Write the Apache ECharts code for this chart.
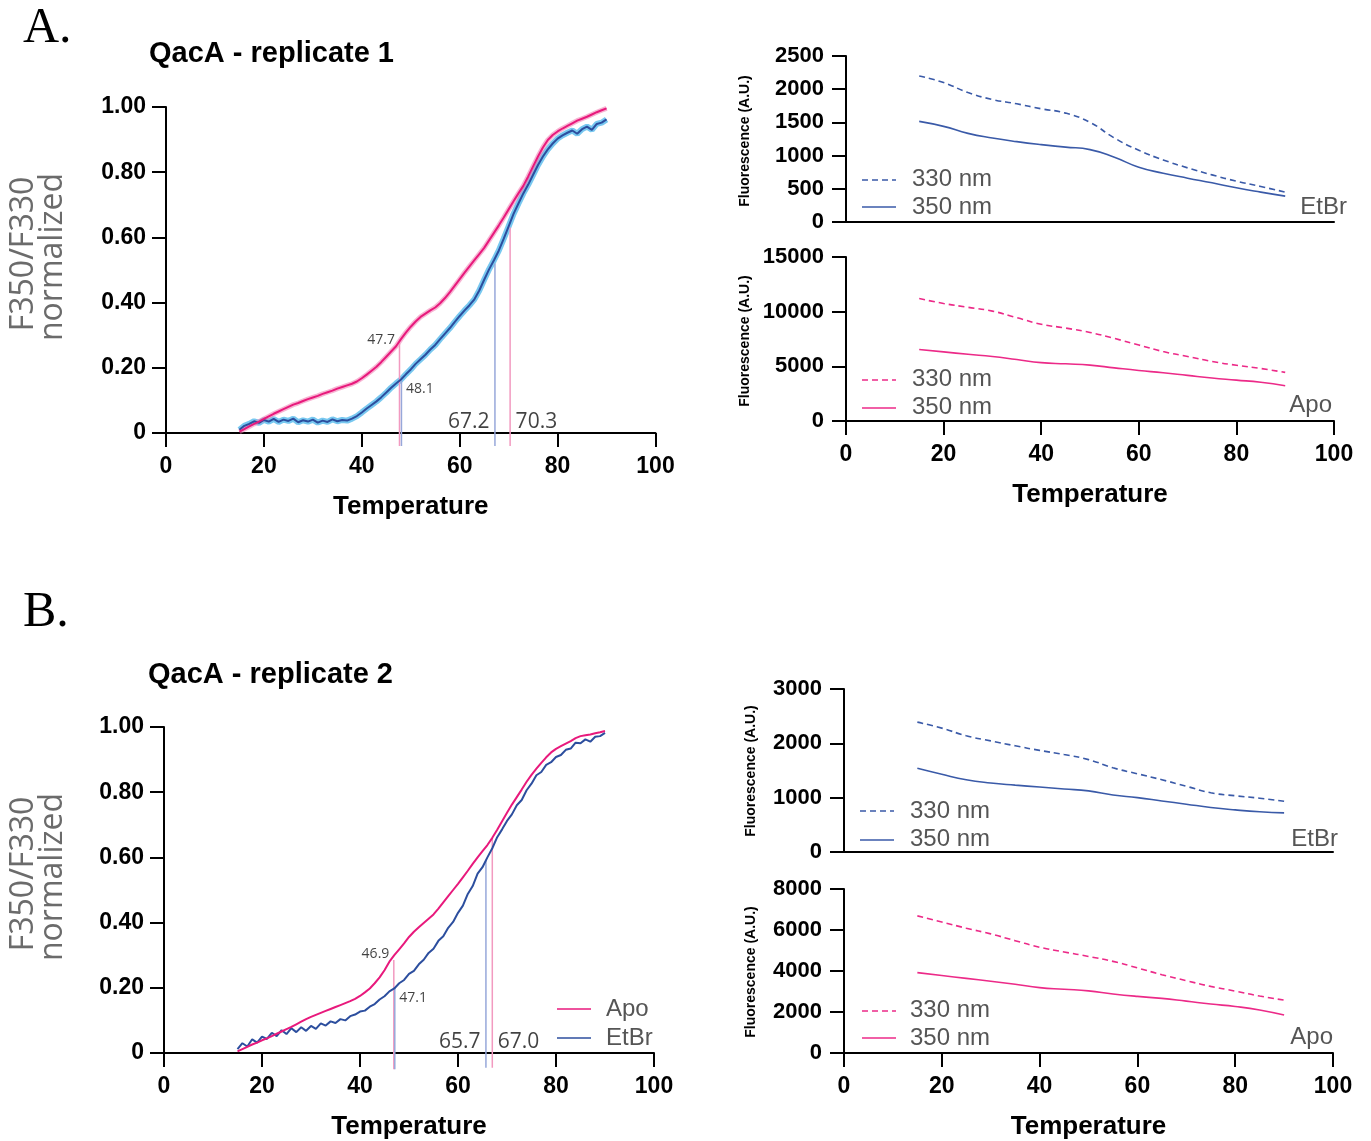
<!DOCTYPE html>
<html>
<head>
<meta charset="utf-8">
<script src="https://cdn.jsdelivr.net/npm/echarts@6/dist/echarts.min.js"></script>
<style>
html,body{margin:0;padding:0;background:#fff;}
#c{width:1371px;height:1141px;}
</style>
</head>
<body>
<div id="c"></div>
<script>
// ---------- DATA ----------
const temps = [15,16,17,18,19,20,21,22,23,24,25,26,27,28,29,30,31,32,33,34,35,36,37,38,39,40,41,42,43,44,45,46,47,48,49,50,51,52,53,54,55,56,57,58,59,60,61,62,63,64,65,66,67,68,69,70,71,72,73,74,75,76,77,78,79,80,81,82,83,84,85,86,87,88,89,90];

// Replicate 1 (A) normalized F350/F330
const apoA = [.004,.012,.020,.028,.035,.043,.051,.059,.066,.073,.080,.087,.092,.098,.104,.109,.114,.120,.125,.130,.136,.141,.146,.151,.158,.168,.179,.191,.203,.218,.234,.250,.266,.288,.308,.326,.342,.356,.366,.376,.385,.398,.414,.432,.452,.472,.492,.511,.530,.549,.568,.591,.614,.637,.661,.686,.711,.735,.758,.787,.818,.848,.876,.899,.914,.925,.934,.942,.950,.958,.964,.970,.977,.984,.990,.996];
const etbrA = [.010,.022,.028,.036,.031,.040,.035,.043,.034,.041,.037,.044,.033,.039,.035,.041,.032,.038,.034,.042,.036,.040,.038,.044,.052,.063,.075,.086,.097,.110,.124,.139,.152,.164,.180,.195,.212,.226,.240,.256,.270,.288,.305,.322,.341,.359,.376,.392,.410,.437,.470,.502,.530,.560,.596,.634,.672,.704,.735,.762,.792,.822,.848,.870,.888,.903,.913,.921,.928,.918,.932,.940,.930,.948,.952,.962];

// Replicate 2 (B) normalized F350/F330
const apoB = [.005,.012,.019,.026,.032,.039,.045,.052,.059,.066,.073,.080,.088,.096,.104,.111,.117,.123,.129,.135,.141,.147,.153,.159,.166,.175,.186,.198,.214,.232,.254,.280,.300,.318,.336,.356,.372,.386,.399,.412,.425,.443,.462,.481,.500,.519,.539,.559,.580,.600,.619,.638,.660,.685,.711,.737,.762,.785,.808,.832,.853,.872,.890,.907,.922,.933,.941,.949,.957,.966,.972,.975,.977,.981,.984,.988];
const etbrB = [.012,.030,.020,.042,.032,.050,.043,.062,.052,.070,.058,.076,.064,.079,.068,.083,.074,.091,.084,.097,.092,.104,.100,.113,.118,.127,.130,.142,.150,.164,.174,.189,.198,.214,.224,.243,.252,.272,.286,.307,.320,.344,.358,.384,.402,.430,.452,.488,.512,.550,.570,.600,.628,.662,.686,.712,.732,.760,.776,.806,.826,.852,.862,.884,.892,.908,.914,.930,.934,.952,.950,.962,.955,.970,.972,.982];

// Tm markers: temperature, top of marker line
const tmApoA = [47.7, 70.3];   const tmApoTopA = [0.275, 0.63];
const tmEtbrA = [48.1, 67.2];  const tmEtbrTopA = [0.165, 0.52];
const tmApoB = [46.9, 67.0];   const tmApoTopB = [0.285, 0.66];
const tmEtbrB = [47.1, 65.7];  const tmEtbrTopB = [0.20, 0.59];

// Raw fluorescence (A.U.)
const rawTemps = [15,20,25,30,35,40,45,50,55,60,65,70,75,80,85,90];
const etbrA330 = [2200,2100,1950,1845,1780,1705,1640,1500,1265,1080,935,815,710,615,535,450];
const etbrA350 = [1515,1440,1335,1265,1210,1165,1128,1090,975,825,735,660,590,515,450,390];
const apoA330  = [11200,10750,10400,10050,9450,8850,8500,8100,7550,6950,6350,5900,5450,5100,4800,4450];
const apoA350  = [6540,6320,6100,5900,5620,5340,5230,5110,4860,4620,4415,4170,3930,3740,3540,3230];
const etbrB330 = [2390,2280,2140,2045,1955,1870,1795,1700,1550,1440,1330,1210,1090,1035,990,935];
const etbrB350 = [1540,1430,1330,1270,1230,1195,1160,1125,1050,1000,940,880,820,775,740,720];
const apoB330  = [6690,6390,6090,5810,5480,5160,4930,4710,4470,4150,3820,3530,3250,3020,2780,2580];
const apoB350  = [3920,3780,3640,3500,3350,3190,3110,3030,2880,2760,2665,2530,2390,2270,2100,1850];

const xTicks = [0,20,40,60,80,100];
const yTicksNorm = [0,0.2,0.4,0.6,0.8,1.0];

// ---------- STYLE ----------
const PINK = '#e8197c', BLUE = '#2c4e9e';
const PINK_BAND = 'rgba(240,120,175,0.55)', BLUE_BAND = '#78c8f0';
const PINK_TM = '#f29ac0', BLUE_TM = '#97a8da';
const RPINK = '#ec2a88', RBLUE = '#3a5aa8';
const LAB = {fontFamily:'Liberation Sans', fontWeight:'bold', color:'#000'};
const pairs = (xs, ys) => xs.map((x,i)=>[x, ys[i]]);

const grids = [
  {left:166, top:107, width:489.5, height:326},   // A left
  {left:846, top:56,  width:488,   height:166},   // A right top
  {left:846, top:257, width:488,   height:164},   // A right bottom
  {left:164, top:727, width:490,   height:326},   // B left
  {left:844, top:689, width:489,   height:163},   // B right top
  {left:844, top:889, width:489,   height:164}    // B right bottom
];

function xAx(g, labels, name){
  return {type:'value', gridIndex:g, min:xTicks[0], max:xTicks[xTicks.length-1], interval:20,
    axisLine:{show:true, onZero:false, lineStyle:{color:'#000', width:2}},
    axisTick:{show:labels, length:14, lineStyle:{color:'#000', width:2}},
    axisLabel:{show:labels, margin:22, fontSize:23, ...LAB},
    splitLine:{show:false},
    name: name || '', nameLocation:'middle', nameGap:61,
    nameTextStyle:{fontSize:26, fontFamily:'Liberation Sans', fontWeight:'bold', color:'#000'}};
}
function yAx(g, max, interval, fmt, margin, fs){
  return {type:'value', gridIndex:g, min:0, max:max, interval:interval,
    axisLine:{show:true, onZero:false, lineStyle:{color:'#000', width:2}},
    axisTick:{show:true, length:14, lineStyle:{color:'#000', width:2}},
    axisLabel:{show:true, margin:margin, fontSize:fs, ...LAB, formatter:fmt},
    splitLine:{show:false}};
}
const normFmt = v => v === 0 ? '0' : v.toFixed(2);
const rawFmt = v => String(v);

const series = [];
function line(xi, data, color, width, extra){
  series.push(Object.assign({type:'line', xAxisIndex:xi, yAxisIndex:xi, data:data, showSymbol:false, symbol:'none',
    lineStyle:{color:color, width:width}, itemStyle:{color:color}, silent:true, animation:false, z:3}, extra||{}));
}
function tmLine(xi, t, top, bottom, color){
  line(xi, [[t, bottom],[t, top]], color, 1.5, {clip:false, z:2});
}
function tmLabel(xi, t, y, side, size){
  series.push({type:'scatter', xAxisIndex:xi, yAxisIndex:xi, symbolSize:1, itemStyle:{color:'rgba(0,0,0,0)'},
    data:[{value:[t, y], label:{show:true, position:side, distance:size>16?5:4, formatter:String(t.toFixed(1)),
      fontFamily:'Open Sans', fontSize:size, color:'#111'}}], silent:true, animation:false, z:5});
}

// A left
line(0, pairs(temps, etbrA), BLUE_BAND, 6, {z:1});
line(0, pairs(temps, apoA), PINK_BAND, 5, {z:1});
tmLine(0, tmApoA[0], tmApoTopA[0], -0.04, PINK_TM);
tmLine(0, tmEtbrA[0], tmEtbrTopA[0], -0.04, BLUE_TM);
tmLine(0, tmEtbrA[1], tmEtbrTopA[1], -0.04, BLUE_TM);
tmLine(0, tmApoA[1], tmApoTopA[1], -0.04, PINK_TM);
line(0, pairs(temps, etbrA), BLUE, 2);
line(0, pairs(temps, apoA), PINK, 2);
tmLabel(0, tmApoA[0], 0.285, 'left', 14);
tmLabel(0, tmEtbrA[0], 0.135, 'right', 14);
tmLabel(0, tmEtbrA[1], 0.035, 'left', 21);
tmLabel(0, tmApoA[1], 0.035, 'right', 21);

// A right
line(1, pairs(rawTemps, etbrA330), RBLUE, 1.6, {smooth:true, lineStyle:{color:RBLUE, width:1.6, type:[6,4]}});
line(1, pairs(rawTemps, etbrA350), RBLUE, 1.6, {smooth:true});
line(2, pairs(rawTemps, apoA330), RPINK, 1.6, {smooth:true, lineStyle:{color:RPINK, width:1.6, type:[6,4]}});
line(2, pairs(rawTemps, apoA350), RPINK, 1.6, {smooth:true});

// B left
tmLine(3, tmApoB[0], tmApoTopB[0], -0.05, PINK_TM);
tmLine(3, tmEtbrB[0], tmEtbrTopB[0], -0.05, BLUE_TM);
tmLine(3, tmEtbrB[1], tmEtbrTopB[1], -0.045, BLUE_TM);
tmLine(3, tmApoB[1], tmApoTopB[1], -0.045, PINK_TM);
line(3, pairs(temps, etbrB), BLUE, 2);
line(3, pairs(temps, apoB), PINK, 2);
tmLabel(3, tmApoB[0], 0.305, 'left', 14);
tmLabel(3, tmEtbrB[0], 0.17, 'right', 14);
tmLabel(3, tmEtbrB[1], 0.033, 'left', 21);
tmLabel(3, tmApoB[1], 0.033, 'right', 21);

// B right
line(4, pairs(rawTemps, etbrB330), RBLUE, 1.6, {smooth:true, lineStyle:{color:RBLUE, width:1.6, type:[6,4]}});
line(4, pairs(rawTemps, etbrB350), RBLUE, 1.6, {smooth:true});
line(5, pairs(rawTemps, apoB330), RPINK, 1.6, {smooth:true, lineStyle:{color:RPINK, width:1.6, type:[6,4]}});
line(5, pairs(rawTemps, apoB350), RPINK, 1.6, {smooth:true});

// ---------- GRAPHIC (panel letters, axis names, legends) ----------
const g = [];
function txt(x, y, text, font, fill, align, rot){
  g.push({type:'text', x:x, y:y, rotation:rot||0, silent:true,
    style:{text:text, font:font, fill:fill, align:align||'left', verticalAlign:'middle'}});
}
function seg(x1, x2, y, color, dash){
  g.push({type:'line', silent:true, shape:{x1:x1, y1:y, x2:x2, y2:y},
    style:{stroke:color, lineWidth:1.6, lineDash:dash||null}});
}
const SERIF = '50px "Liberation Serif"';
txt(23, 29, 'A.', SERIF, '#000');
txt(23, 613, 'B.', SERIF, '#000');
const TITLE = 'bold 29px "Liberation Sans"';
txt(149, 54, 'QacA - replicate 1', TITLE, '#000');
txt(148, 675, 'QacA - replicate 2', TITLE, '#000');
const YN = '32px "Open Sans"', YNC = '#6b6b6b';
txt(24, 254, 'F350/F330', YN, YNC, 'center', Math.PI/2);
txt(53, 257, 'normalized', YN, YNC, 'center', Math.PI/2);
txt(24, 874, 'F350/F330', YN, YNC, 'center', Math.PI/2);
txt(53, 877, 'normalized', YN, YNC, 'center', Math.PI/2);
const FN = 'bold 14px "Liberation Sans"';
txt(745, 141, 'Fluorescence (A.U.)', FN, '#000', 'center', Math.PI/2);
txt(745, 341, 'Fluorescence (A.U.)', FN, '#000', 'center', Math.PI/2);
txt(751, 771, 'Fluorescence (A.U.)', FN, '#000', 'center', Math.PI/2);
txt(751, 972, 'Fluorescence (A.U.)', FN, '#000', 'center', Math.PI/2);
const LG = '24px "Liberation Sans"', LGC = '#555';
// A right top legend
seg(862, 896, 180, RBLUE, [6,4]); txt(912, 179, '330 nm', LG, LGC);
seg(862, 896, 207, RBLUE);        txt(912, 207, '350 nm', LG, LGC);
txt(1347, 207, 'EtBr', LG, LGC, 'right');
// A right bottom legend
seg(862, 896, 380, RPINK, [6,4]); txt(912, 379, '330 nm', LG, LGC);
seg(862, 896, 408, RPINK);        txt(912, 407, '350 nm', LG, LGC);
txt(1332, 405, 'Apo', LG, LGC, 'right');
// B right top legend
seg(860, 894, 811, RBLUE, [6,4]); txt(910, 811, '330 nm', LG, LGC);
seg(860, 894, 840, RBLUE);        txt(910, 839, '350 nm', LG, LGC);
txt(1338, 839, 'EtBr', LG, LGC, 'right');
// B right bottom legend
seg(862, 896, 1011, RPINK, [6,4]); txt(910, 1010, '330 nm', LG, LGC);
seg(862, 896, 1038, RPINK);        txt(910, 1038, '350 nm', LG, LGC);
txt(1333, 1037, 'Apo', LG, LGC, 'right');
// B left legend
seg(557, 591, 1009, PINK);  txt(606, 1009, 'Apo', LG, LGC);
seg(557, 591, 1038, BLUE);  txt(606, 1038, 'EtBr', LG, LGC);

const option = {
  animation:false,
  backgroundColor:'#fff',
  grid: grids.map(x => Object.assign({containLabel:false}, x)),
  xAxis: [
    xAx(0, true, 'Temperature'),
    xAx(1, false),
    xAx(2, true, 'Temperature'),
    xAx(3, true, 'Temperature'),
    xAx(4, false),
    xAx(5, true, 'Temperature')
  ],
  yAxis: [
    yAx(0, yTicksNorm[5], 0.2, normFmt, 20, 23),
    yAx(1, 2500, 500, rawFmt, 22, 22),
    yAx(2, 15000, 5000, rawFmt, 22, 22),
    yAx(3, yTicksNorm[5], 0.2, normFmt, 20, 23),
    yAx(4, 3000, 1000, rawFmt, 22, 22),
    yAx(5, 8000, 2000, rawFmt, 22, 22)
  ],
  series: series,
  graphic: g
};
const chart = echarts.init(document.getElementById('c'), null, {renderer:'canvas'});
chart.setOption(option);
</script>
</body>
</html>
